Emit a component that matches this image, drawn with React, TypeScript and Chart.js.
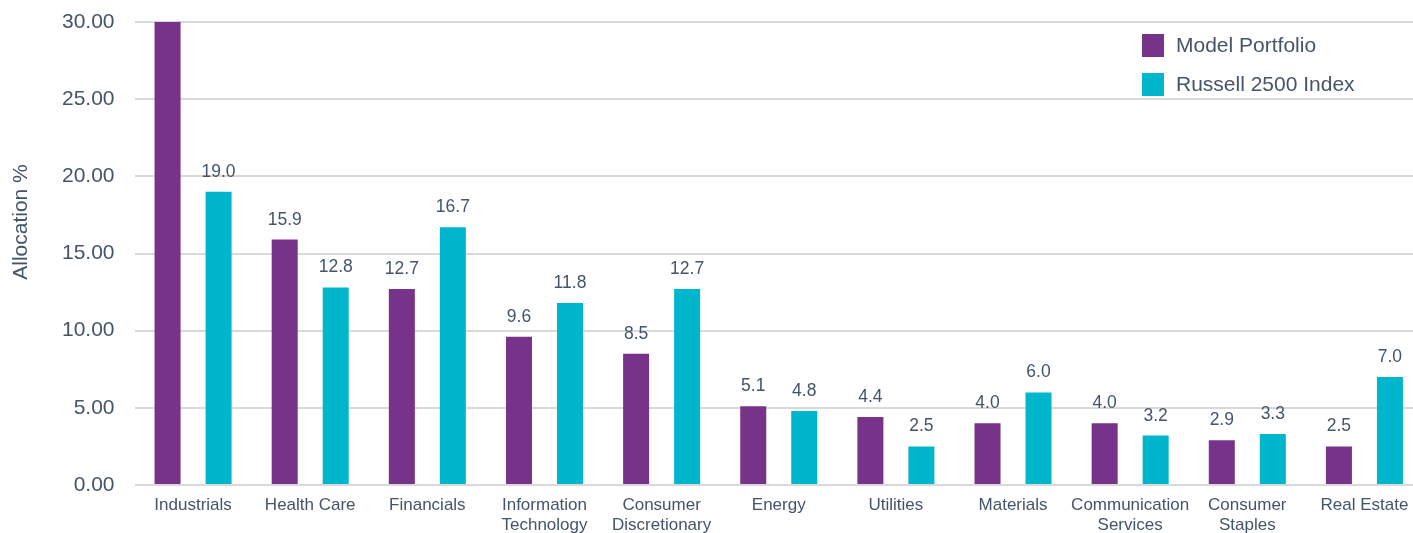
import React, { useEffect, useRef } from "react";
import { Chart, registerables } from "chart.js";

Chart.register(...registerables);

const categories: (string | string[])[] = [
  "Industrials",
  "Health Care",
  "Financials",
  ["Information", "Technology"],
  ["Consumer", "Discretionary"],
  "Energy",
  "Utilities",
  "Materials",
  ["Communication", "Services"],
  ["Consumer", "Staples"],
  "Real Estate",
];
const modelPortfolio = [30.0, 15.9, 12.7, 9.6, 8.5, 5.1, 4.4, 4.0, 4.0, 2.9, 2.5];
const russell2500 = [19.0, 12.8, 16.7, 11.8, 12.7, 4.8, 2.5, 6.0, 3.2, 3.3, 7.0];
const seriesNames = ["Model Portfolio", "Russell 2500 Index"];
const yTicks = [0, 5, 10, 15, 20, 25, 30];

const PURPLE = "#773389";
const CYAN = "#00B6CC";
const TEXT = "#44546A";
const FONT = "'Liberation Sans', Arial, sans-serif";

const CANVAS_W = 1440;
const CANVAS_H = 533;

const overlayPlugin = {
  id: "overlay",
  afterDatasetsDraw(chart: any) {
    const ctx = chart.ctx;
    const yMax = chart.scales.y.max;
    ctx.save();
    ctx.font = `17.5px ${FONT}`;
    ctx.fillStyle = TEXT;
    ctx.textAlign = "center";
    ctx.textBaseline = "alphabetic";
    chart.data.datasets.forEach((ds: any, di: number) => {
      const meta = chart.getDatasetMeta(di);
      meta.data.forEach((el: any, i: number) => {
        const v = ds.data[i];
        if (v >= yMax) return;
        ctx.fillText(v.toFixed(1), el.x, el.y - 15);
      });
    });
    ctx.restore();
  },
  afterDraw(chart: any) {
    const ctx = chart.ctx;
    ctx.save();
    // y axis title
    ctx.font = `21px ${FONT}`;
    ctx.fillStyle = TEXT;
    ctx.textAlign = "center";
    ctx.textBaseline = "middle";
    ctx.translate(21, 222);
    ctx.rotate(-Math.PI / 2);
    ctx.fillText("Allocation %", 0, 0);
    ctx.restore();

    // legend
    ctx.save();
    const colors = [PURPLE, CYAN];
    const tops = [34, 73];
    ctx.font = `21px ${FONT}`;
    ctx.textAlign = "left";
    ctx.textBaseline = "middle";
    seriesNames.forEach((name, i) => {
      ctx.fillStyle = colors[i];
      ctx.fillRect(1142, tops[i], 22, 23);
      ctx.fillStyle = TEXT;
      ctx.fillText(name, 1176, tops[i] + 12);
    });
    ctx.restore();
  },
};

export default function App() {
  const ref = useRef<HTMLCanvasElement | null>(null);

  useEffect(() => {
    document.body.style.margin = "0";
    document.body.style.overflow = "hidden";
    document.documentElement.style.overflow = "hidden";
    if (!ref.current) return;
    const chart = new Chart(ref.current, {
      type: "bar",
      data: {
        labels: categories,
        datasets: [
          {
            label: seriesNames[0],
            data: modelPortfolio,
            backgroundColor: PURPLE,
            categoryPercentage: 0.871,
            barPercentage: 0.51,
          },
          {
            label: seriesNames[1],
            data: russell2500,
            backgroundColor: CYAN,
            categoryPercentage: 0.871,
            barPercentage: 0.51,
          },
        ],
      },
      options: {
        animation: false,
        responsive: false,
        maintainAspectRatio: false,
        devicePixelRatio: 1,
        layout: { padding: { top: 22, right: CANVAS_W - 1423, bottom: 0, left: 0 } },
        plugins: {
          legend: { display: false },
          title: { display: false },
          tooltip: { enabled: false },
        },
        scales: {
          x: {
            grid: { display: false, drawTicks: false },
            border: { display: false },
            ticks: {
              font: { family: FONT, size: 17, lineHeight: 1.2 },
              color: TEXT,
              padding: 10,
              maxRotation: 0,
              autoSkip: false,
            },
            afterFit(scale: any) {
              scale.height = 48;
              scale.paddingLeft = 0;
              scale.paddingRight = 0;
            },
          },
          y: {
            min: 0,
            max: 30,
            afterBuildTicks(scale: any) {
              scale.ticks = yTicks.map((v) => ({ value: v }));
            },
            grid: { color: "#D9D9D9", lineWidth: 2, drawTicks: false },
            border: { display: false },
            ticks: {
              font: { family: FONT, size: 21 },
              color: TEXT,
              padding: 20,
              callback: (v: any) => Number(v).toFixed(2),
            },
            afterFit(scale: any) {
              scale.width = 134.5;
              scale.paddingTop = 0;
              scale.paddingBottom = 0;
            },
          },
        },
      },
      plugins: [overlayPlugin],
    });
    return () => chart.destroy();
  }, []);

  return (
    <div style={{ width: CANVAS_W, height: CANVAS_H, overflow: "hidden" }}>
      <canvas ref={ref} width={CANVAS_W} height={CANVAS_H} style={{ display: "block", width: CANVAS_W, height: CANVAS_H }} />
    </div>
  );
}
